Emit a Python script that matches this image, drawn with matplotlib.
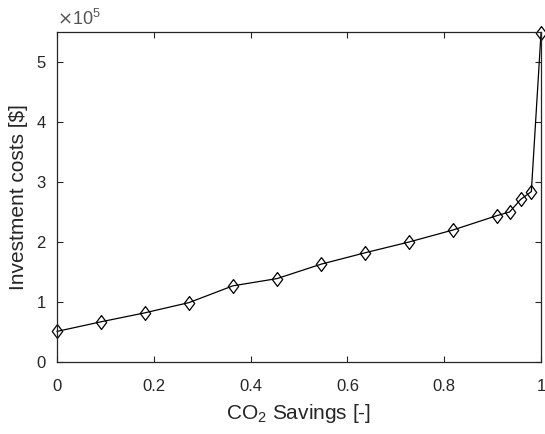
import matplotlib
matplotlib.use("Agg")
import matplotlib.pyplot as plt

# CO2 savings (fraction) vs investment costs (in 1e5 $)
co2_savings = [0.0, 0.0909, 0.1818, 0.2727, 0.3636, 0.4545, 0.5455, 0.6364,
               0.7273, 0.8182, 0.9091, 0.935, 0.958, 0.98, 1.0]
invest_1e5 = [0.51, 0.67, 0.82, 0.99, 1.27, 1.39, 1.63, 1.82,
              2.0, 2.2, 2.44, 2.5, 2.71, 2.84, 5.48]

plt.rcParams["font.family"] = ["Liberation Sans", "DejaVu Sans"]
ink = "#262626"

fig = plt.figure(figsize=(5.45, 4.34), dpi=100)
ax = fig.add_axes([0.1046, 0.1659, 0.8881, 0.7604])

diamond = [(0, 1), (0.75, 0), (0, -1), (-0.75, 0), (0, 1)]
ax.plot(co2_savings, invest_1e5, color="black", lw=0.9,
        marker=diamond, ms=10, mfc="none", mec="black", mew=0.9, clip_on=False)

ax.set_xlim(0, 1)
ax.set_ylim(0, 5.5)
ax.set_xticks([0, 0.2, 0.4, 0.6, 0.8, 1])
ax.set_xticklabels(["0", "0.2", "0.4", "0.6", "0.8", "1"])
ax.set_yticks([0, 1, 2, 3, 4, 5])
ax.tick_params(direction="in", top=True, right=True, length=4, width=0.8,
               labelsize=12, colors=ink)
ax.tick_params(axis="x", pad=12)
ax.tick_params(axis="y", pad=8)
for sp in ax.spines.values():
    sp.set_color(ink)
    sp.set_linewidth(0.9)

ax.text(0.0, 1.01, r"$\times$10$^{\mathregular{5}}$", transform=ax.transAxes,
        fontsize=13, color="#555555", ha="left", va="bottom")
ax.set_xlabel(r"CO$_\mathregular{2}$ Savings [-]", fontsize=15, color=ink, labelpad=6)
ax.set_ylabel("Investment costs [$]", fontsize=15, color=ink, labelpad=6)

fig.savefig("out.png", dpi=100)
